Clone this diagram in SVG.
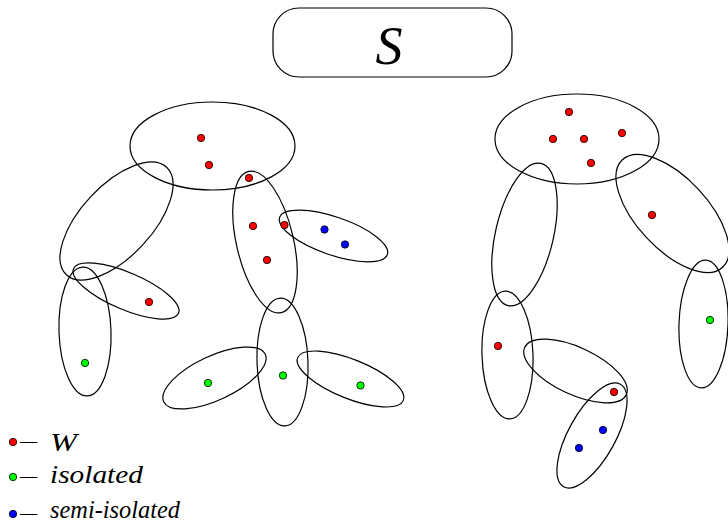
<svg xmlns="http://www.w3.org/2000/svg" width="728" height="522" viewBox="0 0 728 522">
<style>
.e{fill:none;stroke:#000;stroke-width:1.2}
.r{fill:#f00;stroke:#000;stroke-width:0.8}
.g{fill:#0f0;stroke:#000;stroke-width:0.8}
.b{fill:#00f;stroke:#000;stroke-width:0.8}
</style>
<rect width="728" height="522" fill="#fff"/>
<g id="title">
<rect x="273" y="8" width="239" height="69" rx="26" ry="26" class="e"/>
<text x="389" y="64" font-size="54" text-anchor="middle" font-family="Liberation Serif, serif" font-style="italic" fill="#000">S</text>
</g>
<g id="left-cluster">
<g id="L-top"><ellipse cx="212.5" cy="146" rx="82.5" ry="44" class="e"/></g>
<g id="L-diag"><ellipse cx="116.5" cy="221" rx="73.5" ry="35.5" transform="rotate(-47 116.5 221)" class="e"/></g>
<g id="L-small"><ellipse cx="126" cy="291" rx="57" ry="18.5" transform="rotate(23 126 291)" class="e"/></g>
<g id="L-vert"><ellipse cx="85" cy="331.5" rx="26" ry="64.5" transform="rotate(-2 85 331.5)" class="e"/></g>
<g id="L-mid"><ellipse cx="265" cy="242" rx="28.5" ry="72.5" transform="rotate(-13 265 242)" class="e"/></g>
<g id="L-blue"><ellipse cx="333.5" cy="236" rx="57" ry="19" transform="rotate(19 333.5 236)" class="e"/></g>
<g id="L-bmid"><ellipse cx="282.5" cy="362" rx="25.5" ry="64" transform="rotate(-2 282.5 362)" class="e"/></g>
<g id="L-bleft"><ellipse cx="214.5" cy="378" rx="56" ry="22" transform="rotate(-25 214.5 378)" class="e"/></g>
<g id="L-bright"><ellipse cx="350.5" cy="379" rx="57" ry="19.5" transform="rotate(22 350.5 379)" class="e"/></g>
<g id="L-dots">
<circle cx="201" cy="138" r="3.7" class="r"/>
<circle cx="209" cy="165" r="3.7" class="r"/>
<circle cx="249" cy="178" r="3.7" class="r"/>
<circle cx="253" cy="226" r="3.7" class="r"/>
<circle cx="284.5" cy="225" r="3.7" class="r"/>
<circle cx="267" cy="260" r="3.7" class="r"/>
<circle cx="149" cy="302" r="3.7" class="r"/>
<circle cx="324.5" cy="229.5" r="3.7" class="b"/>
<circle cx="345" cy="244.5" r="3.7" class="b"/>
<circle cx="85" cy="363" r="3.7" class="g"/>
<circle cx="208" cy="383" r="3.7" class="g"/>
<circle cx="283" cy="375.5" r="3.7" class="g"/>
<circle cx="360.5" cy="385.5" r="3.7" class="g"/>
</g>
</g>
<g id="right-cluster">
<g id="R-top"><ellipse cx="577" cy="139" rx="82" ry="45" class="e"/></g>
<g id="R-left"><ellipse cx="524.5" cy="234.5" rx="29" ry="73" transform="rotate(13 524.5 234.5)" class="e"/></g>
<g id="R-diag"><ellipse cx="672.5" cy="213.5" rx="73.5" ry="35.5" transform="rotate(47 672.5 213.5)" class="e"/></g>
<g id="R-green"><ellipse cx="703.5" cy="324" rx="24.5" ry="64" transform="rotate(2 703.5 324)" class="e"/></g>
<g id="R-lvert"><ellipse cx="507.5" cy="355" rx="25.5" ry="64" transform="rotate(-2 507.5 355)" class="e"/></g>
<g id="R-mid"><ellipse cx="575.5" cy="371" rx="56" ry="23.5" transform="rotate(25 575.5 371)" class="e"/></g>
<g id="R-bottom"><ellipse cx="592" cy="435.5" rx="23.5" ry="58.5" transform="rotate(29 592 435.5)" class="e"/></g>
<g id="R-dots">
<circle cx="569" cy="112" r="3.7" class="r"/>
<circle cx="553" cy="139" r="3.7" class="r"/>
<circle cx="584" cy="139" r="3.7" class="r"/>
<circle cx="622" cy="133" r="3.7" class="r"/>
<circle cx="591" cy="163" r="3.7" class="r"/>
<circle cx="652" cy="215" r="3.7" class="r"/>
<circle cx="498" cy="346" r="3.7" class="r"/>
<circle cx="614" cy="392" r="3.7" class="r"/>
<circle cx="603" cy="430" r="3.7" class="b"/>
<circle cx="579" cy="448" r="3.7" class="b"/>
<circle cx="710" cy="320" r="3.7" class="g"/>
</g>
</g>
<g id="legend" font-family="Liberation Serif, serif" fill="#000">
<g id="leg-W">
<circle cx="13" cy="442" r="3.7" class="r"/>
<text x="20" y="447" font-size="18" textLength="17" lengthAdjust="spacingAndGlyphs">—</text>
<text x="50" y="451" font-size="26" font-style="italic" textLength="27" lengthAdjust="spacingAndGlyphs">W</text>
</g>
<g id="leg-iso">
<circle cx="13" cy="477" r="3.7" class="g"/>
<text x="20" y="482" font-size="18" textLength="17" lengthAdjust="spacingAndGlyphs">—</text>
<text x="50" y="483" font-size="26" font-style="italic" textLength="93" lengthAdjust="spacingAndGlyphs">isolated</text>
</g>
<g id="leg-semi">
<circle cx="13" cy="514" r="3.7" class="b"/>
<text x="20" y="519" font-size="18" textLength="17" lengthAdjust="spacingAndGlyphs">—</text>
<text x="50" y="518" font-size="25" font-style="italic" textLength="130" lengthAdjust="spacingAndGlyphs">semi-isolated</text>
</g>
</g>
</svg>
